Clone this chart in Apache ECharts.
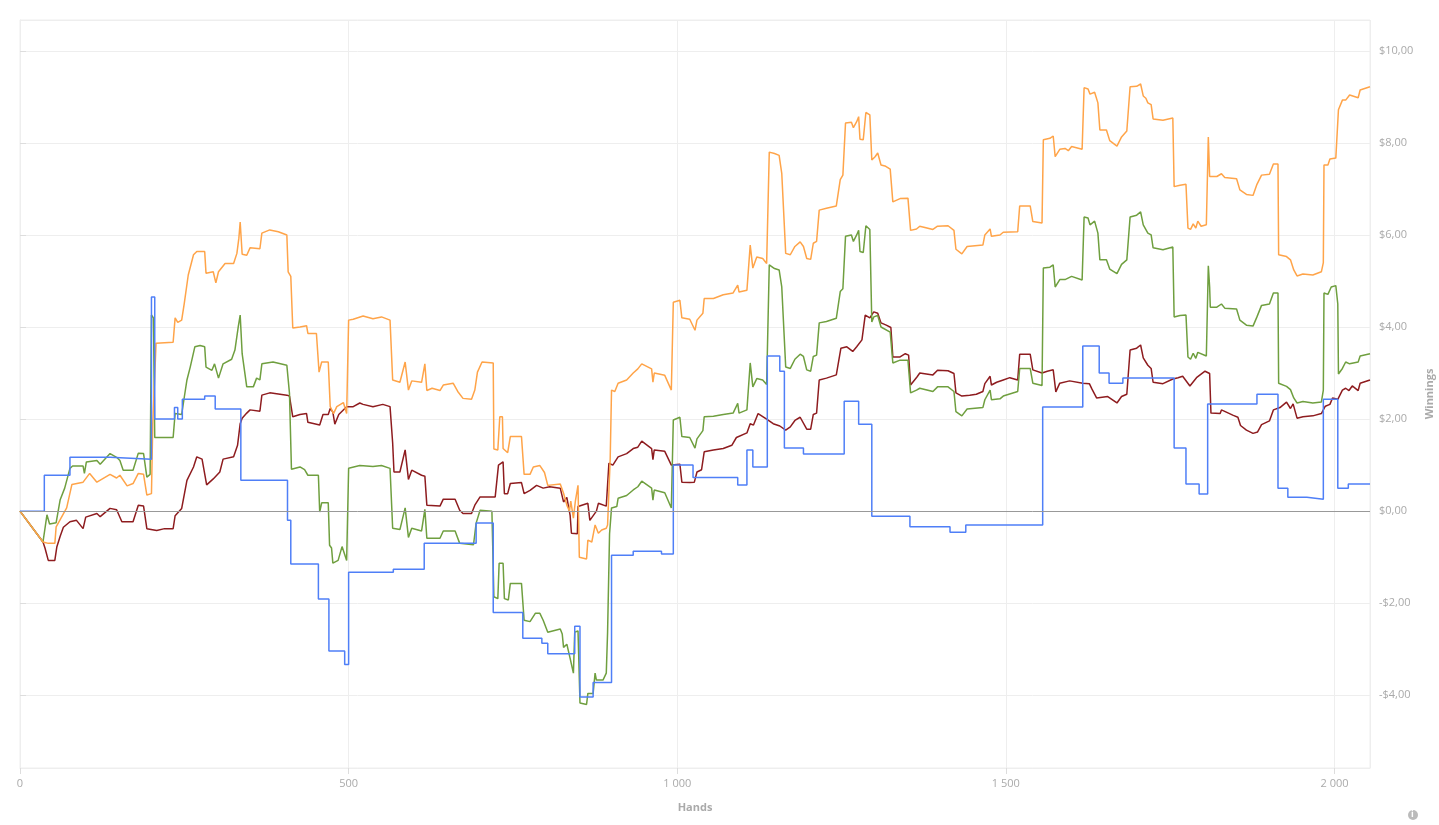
<!DOCTYPE html>
<html lang="en">
<head>
  <meta charset="UTF-8">
  <title>Winnings by hands</title>
  <script src="https://cdn.jsdelivr.net/npm/echarts@6/dist/echarts.min.js"></script>
</head>
<style>
  * {
    padding: 0px;
    margin: 0px;
  }
  html, body {
    background: #fff;
    overflow: hidden;
  }
</style>
<body>
<div id="main" style="width:1439px;height:825px;"></div>
</body>
</html>
<script>
  // [hand, winnings $]
  var orangeData = [[0,0],[35,-0.67],[43,-0.7],[53,-0.7],[55,-0.34],[71,0.07],[79,0.58],[96,0.63],[106,0.82],[117,0.63],[137,0.8],[147,0.72],[152,0.78],[163,0.55],[172,0.6],[180,0.82],[188,0.8],[193,0.35],[200,0.38],[202,1.9],[207,3.65],[233,3.67],[236,4.2],[240,4.1],[246,4.15],[250,4.52],[256,5.13],[264,5.57],[269,5.64],[281,5.64],[283,5.17],[294,5.2],[298,4.96],[302,5.2],[312,5.38],[325,5.38],[330,5.6],[333,5.93],[335,6.28],[338,5.58],[345,5.56],[350,5.72],[365,5.7],[368,6.04],[380,6.11],[393,6.07],[406,6.0],[408,5.2],[412,5.1],[415,3.98],[426,4.0],[436,4.03],[438,3.86],[451,3.86],[455,3.02],[459,3.24],[469,3.24],[472,2.27],[477,2.12],[482,2.27],[492,2.36],[497,2.12],[500,4.15],[507,4.17],[522,4.24],[537,4.18],[550,4.22],[563,4.15],[567,2.85],[578,2.8],[586,3.24],[591,2.63],[596,2.83],[611,2.8],[616,3.2],[619,2.62],[627,2.67],[639,2.62],[644,2.74],[659,2.78],[666,2.6],[674,2.45],[687,2.43],[692,2.63],[696,3.02],[703,3.24],[720,3.22],[721,1.35],[727,1.33],[730,2.05],[734,2.05],[735,1.36],[742,1.27],[746,1.62],[763,1.62],[767,0.8],[776,0.8],[781,0.96],[791,0.99],[798,0.84],[803,0.56],[822,0.59],[827,0.39],[832,0.13],[836,0.0],[838,0.22],[842,-0.15],[845,0.22],[849,0.56],[851,-1.0],[862,-1.04],[864,-0.63],[870,-0.67],[875,-0.3],[880,-0.48],[885,-0.41],[892,-0.37],[894,-0.3],[898,1.15],[900,2.63],[905,2.6],[910,2.78],[923,2.85],[933,3.0],[940,3.09],[946,3.2],[961,3.09],[963,2.8],[965,3.0],[981,2.95],[991,2.63],[994,4.54],[1004,4.58],[1007,4.2],[1019,4.17],[1027,3.93],[1030,4.15],[1039,4.3],[1041,4.62],[1055,4.62],[1070,4.7],[1085,4.74],[1092,4.91],[1094,4.76],[1106,4.8],[1111,5.78],[1115,5.28],[1121,5.52],[1130,5.49],[1136,5.38],[1140,7.8],[1148,7.77],[1155,7.73],[1159,7.34],[1162,7.34],[1165,5.6],[1172,5.57],[1179,5.75],[1187,5.85],[1192,5.75],[1197,5.49],[1203,5.47],[1207,5.82],[1212,5.86],[1216,6.54],[1227,6.58],[1242,6.63],[1248,7.2],[1252,7.3],[1256,8.43],[1265,8.45],[1268,8.33],[1273,8.46],[1276,8.57],[1278,8.08],[1283,8.07],[1287,8.66],[1293,8.61],[1296,7.63],[1301,7.7],[1305,7.78],[1310,7.52],[1316,7.5],[1324,7.43],[1328,6.72],[1339,6.79],[1351,6.8],[1355,6.1],[1364,6.13],[1369,6.19],[1389,6.12],[1396,6.19],[1412,6.2],[1421,6.1],[1424,5.69],[1433,5.59],[1441,5.75],[1465,5.78],[1468,6.0],[1476,6.13],[1478,5.97],[1491,6.0],[1496,6.06],[1518,6.07],[1521,6.63],[1537,6.63],[1541,6.29],[1555,6.26],[1557,8.07],[1567,8.1],[1572,8.15],[1575,7.7],[1582,7.86],[1590,7.88],[1595,7.83],[1600,7.92],[1616,7.86],[1619,9.2],[1625,9.17],[1628,9.06],[1635,9.1],[1640,8.87],[1643,8.28],[1653,8.28],[1658,8.05],[1669,7.93],[1676,8.13],[1684,8.26],[1689,9.22],[1699,9.23],[1705,9.28],[1709,9.02],[1713,8.97],[1716,8.87],[1721,8.83],[1724,8.52],[1739,8.49],[1754,8.54],[1756,7.05],[1765,7.08],[1774,7.1],[1777,6.15],[1781,6.12],[1785,6.24],[1789,6.15],[1792,6.3],[1797,6.19],[1805,6.22],[1808,8.13],[1810,7.27],[1821,7.27],[1828,7.33],[1833,7.25],[1851,7.22],[1856,6.98],[1866,6.88],[1876,6.86],[1882,7.1],[1889,7.3],[1901,7.32],[1907,7.54],[1914,7.54],[1915,5.57],[1927,5.53],[1933,5.46],[1938,5.24],[1943,5.11],[1952,5.15],[1967,5.13],[1980,5.2],[1983,5.4],[1984,7.52],[1990,7.52],[1993,7.65],[2002,7.67],[2006,8.72],[2012,8.93],[2017,8.93],[2023,9.04],[2036,8.98],[2039,9.15],[2054,9.22]];

  var greenData = [[0,0],[35,-0.67],[38,-0.7],[41,-0.08],[45,-0.28],[55,-0.25],[61,0.24],[68,0.5],[76,0.93],[80,0.98],[96,0.98],[98,0.82],[101,1.07],[117,1.1],[122,1.02],[137,1.25],[147,1.17],[152,1.1],[157,0.89],[172,0.89],[180,1.26],[188,1.25],[193,0.74],[198,0.8],[200,4.26],[203,4.2],[205,1.6],[233,1.6],[236,2.12],[246,2.1],[250,2.48],[254,2.85],[259,3.13],[266,3.57],[274,3.6],[281,3.57],[283,3.13],[292,3.06],[296,3.2],[302,2.89],[309,3.2],[322,3.3],[327,3.5],[332,4.0],[335,4.26],[338,3.42],[345,2.7],[355,2.7],[360,2.89],[365,2.85],[368,3.2],[385,3.24],[406,3.17],[410,2.56],[413,0.91],[426,0.96],[433,0.9],[438,0.78],[454,0.78],[456,-0.02],[459,0.18],[469,0.18],[471,-0.74],[474,-0.8],[476,-1.13],[484,-1.07],[490,-0.77],[493,-0.77],[497,-1.07],[500,0.93],[517,0.99],[537,0.97],[550,0.99],[563,0.93],[567,-0.37],[578,-0.4],[586,0.07],[591,-0.57],[596,-0.37],[611,-0.43],[616,0.04],[619,-0.59],[639,-0.59],[644,-0.43],[662,-0.43],[669,-0.7],[690,-0.73],[694,-0.26],[700,0.02],[718,0.0],[721,-1.86],[727,-1.9],[729,-1.13],[735,-1.13],[737,-1.9],[743,-1.93],[746,-1.57],[763,-1.57],[767,-2.37],[776,-2.4],[784,-2.22],[791,-2.22],[796,-2.37],[803,-2.63],[822,-2.56],[825,-2.67],[827,-2.96],[832,-2.89],[837,-3.2],[842,-3.52],[844,-2.63],[849,-2.6],[852,-4.17],[862,-4.2],[864,-3.96],[872,-3.96],[875,-3.52],[877,-3.67],[887,-3.67],[892,-3.52],[894,-2.63],[897,-0.49],[900,0.07],[908,0.1],[910,0.28],[923,0.34],[933,0.46],[940,0.53],[946,0.65],[961,0.5],[963,0.24],[965,0.46],[981,0.4],[991,0.07],[994,1.98],[1004,2.04],[1007,1.62],[1019,1.6],[1027,1.37],[1030,1.57],[1039,1.75],[1041,2.05],[1055,2.06],[1070,2.1],[1085,2.13],[1092,2.34],[1094,2.13],[1106,2.2],[1111,3.22],[1115,2.7],[1121,2.88],[1130,2.85],[1136,2.75],[1140,5.35],[1148,5.27],[1155,5.24],[1159,4.87],[1165,3.13],[1172,3.1],[1179,3.3],[1187,3.41],[1192,3.36],[1197,3.07],[1203,3.04],[1207,3.36],[1212,3.39],[1216,4.09],[1227,4.12],[1242,4.19],[1248,4.77],[1252,4.83],[1256,5.97],[1265,6.0],[1268,5.86],[1273,6.0],[1276,6.1],[1278,5.64],[1283,5.62],[1287,6.2],[1293,6.12],[1296,4.11],[1299,4.22],[1305,4.25],[1310,4.0],[1324,3.89],[1328,3.22],[1339,3.28],[1351,3.28],[1355,2.57],[1364,2.63],[1369,2.67],[1389,2.6],[1396,2.7],[1412,2.7],[1421,2.6],[1424,2.16],[1433,2.07],[1441,2.22],[1465,2.25],[1468,2.42],[1476,2.63],[1478,2.42],[1491,2.44],[1496,2.5],[1518,2.6],[1521,3.1],[1537,3.1],[1541,2.78],[1555,2.73],[1557,5.28],[1567,5.3],[1572,5.35],[1575,4.87],[1582,5.03],[1590,5.03],[1600,5.1],[1616,5.02],[1619,6.39],[1625,6.37],[1628,6.22],[1635,6.3],[1640,6.04],[1643,5.46],[1653,5.46],[1658,5.26],[1669,5.16],[1676,5.36],[1684,5.46],[1689,6.39],[1699,6.43],[1705,6.5],[1709,6.22],[1716,6.04],[1721,6.0],[1724,5.72],[1739,5.68],[1754,5.74],[1756,4.22],[1765,4.25],[1774,4.26],[1777,3.35],[1781,3.3],[1785,3.43],[1789,3.32],[1792,3.45],[1805,3.37],[1808,5.33],[1810,4.87],[1811,4.43],[1821,4.43],[1828,4.5],[1833,4.41],[1851,4.39],[1856,4.15],[1866,4.04],[1876,4.02],[1882,4.22],[1889,4.47],[1901,4.5],[1907,4.74],[1914,4.74],[1915,2.78],[1927,2.71],[1933,2.64],[1938,2.46],[1943,2.35],[1952,2.38],[1967,2.35],[1980,2.37],[1983,2.63],[1984,4.74],[1990,4.71],[1995,4.87],[2002,4.9],[2005,4.5],[2006,2.98],[2012,3.1],[2017,3.24],[2023,3.2],[2036,3.24],[2039,3.37],[2054,3.42]];

  var redData = [[0,0],[35,-0.67],[38,-0.8],[43,-1.07],[53,-1.07],[56,-0.78],[61,-0.55],[66,-0.35],[76,-0.23],[86,-0.2],[96,-0.38],[100,-0.13],[117,-0.05],[122,-0.12],[137,0.06],[147,0.03],[155,-0.23],[172,-0.23],[180,0.13],[188,0.11],[193,-0.38],[208,-0.42],[220,-0.38],[233,-0.38],[236,-0.1],[246,0.06],[254,0.67],[264,0.96],[269,1.18],[277,1.13],[284,0.57],[294,0.7],[304,0.85],[309,1.13],[325,1.18],[331,1.43],[335,1.9],[338,2.02],[345,2.13],[350,2.2],[365,2.17],[368,2.52],[380,2.57],[406,2.52],[410,2.5],[415,2.05],[426,2.1],[436,2.12],[438,1.93],[456,1.87],[461,2.1],[469,2.1],[472,2.23],[476,2.15],[479,1.89],[485,2.1],[497,2.27],[507,2.27],[517,2.35],[522,2.32],[537,2.27],[552,2.32],[563,2.27],[567,1.48],[569,0.85],[578,0.85],[586,1.33],[591,0.69],[596,0.89],[611,0.78],[616,0.76],[619,0.13],[639,0.11],[644,0.26],[662,0.26],[669,0.02],[674,-0.05],[687,-0.05],[692,0.13],[700,0.31],[723,0.31],[728,1.0],[735,1.07],[737,0.38],[742,0.38],[746,0.6],[763,0.62],[767,0.38],[776,0.45],[786,0.56],[796,0.5],[806,0.53],[822,0.5],[827,0.2],[832,0.3],[837,-0.09],[839,-0.48],[848,-0.49],[849,0.1],[864,0.17],[867,-0.2],[877,0.0],[880,0.17],[892,0.11],[896,1.04],[902,1.0],[910,1.18],[923,1.25],[933,1.36],[940,1.39],[946,1.52],[961,1.36],[963,1.12],[965,1.33],[981,1.3],[991,1.0],[1004,1.02],[1007,0.63],[1019,0.62],[1026,0.63],[1030,0.85],[1037,0.9],[1041,1.29],[1055,1.33],[1070,1.36],[1083,1.43],[1090,1.6],[1106,1.7],[1111,1.9],[1116,1.87],[1123,2.12],[1136,2.0],[1146,1.9],[1156,1.85],[1165,1.76],[1172,1.83],[1179,1.97],[1187,2.04],[1197,1.78],[1203,1.78],[1207,2.1],[1212,2.13],[1216,2.85],[1227,2.89],[1242,2.96],[1249,3.54],[1258,3.57],[1267,3.47],[1273,3.57],[1281,3.72],[1286,4.26],[1293,4.2],[1299,4.33],[1305,4.3],[1310,4.09],[1318,4.04],[1325,3.99],[1328,3.35],[1339,3.35],[1347,3.42],[1352,3.39],[1355,2.74],[1365,2.92],[1369,3.0],[1389,2.96],[1396,3.06],[1412,3.05],[1421,2.99],[1424,2.57],[1433,2.5],[1445,2.52],[1455,2.54],[1465,2.6],[1468,2.77],[1476,2.93],[1478,2.74],[1486,2.8],[1496,2.85],[1506,2.9],[1518,2.85],[1521,3.41],[1537,3.41],[1541,3.07],[1555,3.0],[1563,3.04],[1572,3.07],[1576,2.59],[1582,2.78],[1597,2.83],[1617,2.78],[1627,2.77],[1631,2.65],[1638,2.46],[1655,2.49],[1669,2.35],[1676,2.49],[1684,2.54],[1689,3.5],[1699,3.54],[1705,3.61],[1709,3.33],[1716,3.17],[1721,3.1],[1724,2.8],[1739,2.77],[1754,2.87],[1762,2.9],[1769,2.93],[1780,2.72],[1790,2.9],[1803,3.04],[1810,2.99],[1812,2.13],[1826,2.12],[1828,2.2],[1846,2.08],[1853,2.04],[1857,1.86],[1866,1.76],[1876,1.69],[1883,1.72],[1889,1.88],[1901,1.96],[1907,2.2],[1917,2.25],[1927,2.37],[1933,2.23],[1937,2.33],[1943,2.02],[1952,2.05],[1967,2.07],[1980,2.12],[1986,2.28],[1993,2.32],[1997,2.46],[2005,2.43],[2012,2.63],[2017,2.67],[2022,2.62],[2027,2.72],[2036,2.62],[2039,2.78],[2054,2.85]];

  // blue is drawn as steps: value holds from this hand on
  var blueData = [[0,0],[37,0.78],[76,1.17],[137,1.13],[200,4.65],[205,2.0],[235,2.25],[240,2.0],[247,2.43],[281,2.5],[297,2.22],[336,0.67],[407,-0.2],[412,-1.15],[454,-1.91],[470,-3.04],[494,-3.33],[500,-1.33],[568,-1.26],[615,-0.7],[694,-0.26],[720,-2.2],[765,-2.76],[794,-2.87],[803,-3.1],[844,-2.5],[852,-4.04],[872,-3.72],[900,-0.96],[933,-0.87],[976,-0.93],[994,1.0],[1024,0.73],[1092,0.57],[1106,1.33],[1115,0.96],[1137,3.37],[1156,3.04],[1163,1.37],[1192,1.24],[1254,2.39],[1276,1.89],[1296,-0.11],[1354,-0.34],[1415,-0.46],[1439,-0.3],[1556,2.26],[1617,3.59],[1642,3.0],[1657,2.78],[1678,2.89],[1756,1.37],[1774,0.59],[1794,0.37],[1807,2.33],[1882,2.54],[1914,0.5],[1929,0.3],[1958,0.26],[1983,2.43],[2005,0.5],[2021,0.59],[2054,0.59]];

  var handsMax = 2054;
  var winMin = -5.58;
  var winMax = 10.67;

  var labelColor = '#aaa';
  var gridColor = '#eeeeee';
  var font = "'Open Sans', 'Noto Sans', sans-serif";

  function money(v) {
    var s = '$' + Math.abs(v).toFixed(2).replace('.', ',');
    return v < 0 ? '-' + s : s;
  }

  function thousands(v) {
    return String(v).replace(/\B(?=(\d{3})+(?!\d))/g, ' ');
  }

  function lineSeries(name, data, color, step) {
    return {
      name: name,
      type: 'line',
      data: data,
      step: step || false,
      showSymbol: false,
      symbol: 'none',
      lineStyle: {color: color, width: 1.5},
      itemStyle: {color: color},
      emphasis: {disabled: true}
    };
  }

  window.onload = function () {
    var chart = echarts.init(document.getElementById('main'));

    var red = lineSeries('Red', redData, '#8e1c1f');
    red.markLine = {
      silent: true,
      symbol: ['none', 'none'],
      label: {show: false},
      lineStyle: {color: '#999', width: 1, type: 'solid'},
      data: [{yAxis: 0}]
    };

    chart.setOption({
      backgroundColor: '#fff',
      animation: false,
      textStyle: {fontFamily: font},
      grid: {
        left: 20,
        right: 69,
        top: 20,
        bottom: 57,
        outerBoundsMode: 'none',
        show: true,
        borderColor: gridColor,
        borderWidth: 1
      },
      xAxis: {
        type: 'value',
        min: 0,
        max: handsMax,
        interval: 500,
        name: 'Hands',
        nameLocation: 'middle',
        nameGap: 34,
        nameTextStyle: {color: labelColor, fontWeight: 'bold', fontSize: 11, fontFamily: font},
        axisLine: {show: true, onZero: false, lineStyle: {color: gridColor}},
        axisTick: {show: true, length: 6, lineStyle: {color: '#ddd'}},
        axisLabel: {
          color: labelColor,
          fontSize: 11,
          fontFamily: font,
          margin: 10,
          showMaxLabel: false,
          formatter: thousands
        },
        splitLine: {show: true, lineStyle: {color: gridColor}}
      },
      yAxis: {
        type: 'value',
        position: 'right',
        min: winMin,
        max: winMax,
        splitNumber: 8,
        name: 'Winnings',
        nameLocation: 'middle',
        nameRotate: 90,
        nameGap: 54,
        nameTextStyle: {color: labelColor, fontWeight: 'bold', fontSize: 11, fontFamily: font},
        axisLine: {show: true, lineStyle: {color: gridColor}},
        axisTick: {show: true, length: 6, lineStyle: {color: '#ddd'}},
        axisLabel: {
          color: labelColor,
          fontSize: 11,
          fontFamily: font,
          margin: 9,
          showMinLabel: false,
          showMaxLabel: false,
          formatter: money
        },
        splitLine: {show: true, lineStyle: {color: gridColor}}
      },
      series: [
        red,
        lineSeries('Green', greenData, '#6f9f3f'),
        lineSeries('Orange', orangeData, '#ffa449'),
        lineSeries('Blue', blueData, '#4f7ff7', 'end')
      ],
      graphic: [
        {
          type: 'circle',
          left: 1408,
          top: 810,
          shape: {r: 5},
          style: {fill: '#bbb'}
        },
        {
          type: 'text',
          left: 1411,
          top: 810,
          style: {text: 'i', fill: '#fff', font: 'bold 9px ' + font}
        }
      ]
    });
  };
</script>
